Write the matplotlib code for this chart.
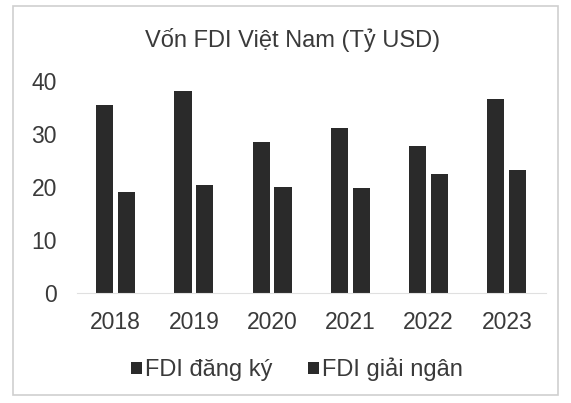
import numpy as np
import matplotlib.pyplot as plt
from matplotlib.patches import Rectangle

# Du lieu doc tu hinh
years = ['2018', '2019', '2020', '2021', '2022', '2023']
dang_ky = [35.46, 38.02, 28.53, 31.15, 27.72, 36.6]
giai_ngan = [19.1, 20.38, 19.98, 19.74, 22.4, 23.18]

plt.rcParams['font.family'] = ['Liberation Sans', 'DejaVu Sans']

fig = plt.figure(figsize=(5.71, 4.03), dpi=100)
fig.patch.set_facecolor('white')
ax = fig.add_axes([0.134, 0.273, 0.822, 0.526])

x = np.arange(len(years))
w = 0.22
gap = 0.06
c_bar = '#2a2a2a'
ax.bar(x - (w + gap) / 2, dang_ky, w, color=c_bar, label='FDI đăng ký')
ax.bar(x + (w + gap) / 2, giai_ngan, w, color=c_bar, label='FDI giải ngân')

ax.set_xlim(-0.5, 5.5)
ax.set_ylim(0, 40)
ax.set_yticks([0, 10, 20, 30, 40])
ax.set_xticks(x)
ax.set_xticklabels(years)
ax.tick_params(axis='both', length=0, labelsize=16.5, colors='#3a3a3a')
ax.tick_params(axis='y', pad=14)
ax.tick_params(axis='x', pad=13)
for s in ['top', 'right', 'left']:
    ax.spines[s].set_visible(False)
ax.spines['bottom'].set_color('#e0e0e0')

fig.text(0.512, 0.9, 'Vốn FDI Việt Nam (Tỷ USD)', ha='center', va='center',
         fontsize=17, color='#3a3a3a')

leg = fig.legend(loc='center', bbox_to_anchor=(0.52, 0.083), ncol=2, frameon=False,
                 fontsize=17, handlelength=0.45, handleheight=0.45, handletextpad=0.15,
                 columnspacing=1.5, labelcolor='#3a3a3a')

# khung bao quanh bieu do
fig.patches.append(Rectangle((0.023, 0.02), 0.955, 0.965, transform=fig.transFigure,
                             fill=False, edgecolor='#cfcfcf', linewidth=1.2))

fig.savefig('out.png', dpi=100)
